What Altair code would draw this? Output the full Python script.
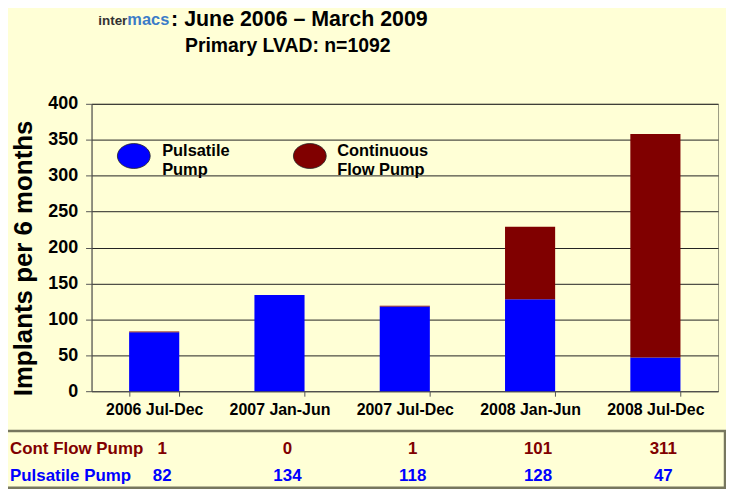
import altair as alt
import pandas as pd

periods = ["2006 Jul-Dec", "2007 Jan-Jun", "2007 Jul-Dec", "2008 Jan-Jun", "2008 Jul-Dec"]
pulsatile = [82, 134, 118, 128, 47]
cont_flow = [1, 0, 1, 101, 311]
series_names = ["Pulsatile Pump", "Continuous Flow Pump"]
series_colors = ["#0000FF", "#800000"]
row_labels = ["Cont Flow Pump", "Pulsatile Pump"]
y_ticks = [0, 50, 100, 150, 200, 250, 300, 350, 400]

FONT = "Liberation Sans"
BG = "#FFFFD6"

rows = []
for i, p in enumerate(periods):
    rows.append({"period": p, "series": "Pulsatile Pump", "value": pulsatile[i], "ord": 0})
    rows.append({"period": p, "series": "Continuous Flow Pump", "value": cont_flow[i], "ord": 1})
df = pd.DataFrame(rows)

xscale = alt.Scale(domain=periods, paddingInner=0.6, paddingOuter=0.3)
cscale = alt.Scale(domain=series_names, range=series_colors)

bars = alt.Chart(df).mark_bar().encode(
    x=alt.X("period:N", scale=xscale, sort=periods,
            axis=alt.Axis(title=None, labelAngle=0, labelFont=FONT, labelFontSize=16,
                          labelFontWeight="bold", labelColor="black", labelPadding=5,
                          tickBand="extent", tickSize=5, tickColor="#555555",
                          domainColor="#555555", grid=False)),
    y=alt.Y("value:Q", stack="zero", scale=alt.Scale(domain=[0, 400], nice=False),
            axis=alt.Axis(title="Implants per 6 months", values=y_ticks,
                          titleFont=FONT, titleFontSize=26, titleFontWeight="bold",
                          titleColor="black", titleX=-60, titleY=155,
                          titleAlign="center", titleBaseline="alphabetic",
                          labelFont=FONT, labelFontSize=18, labelFontWeight="bold",
                          labelColor="black", labelPadding=8, tickSize=6,
                          tickColor="#555555", domainColor="#555555",
                          grid=True, gridColor="#222222", gridWidth=1)),
    color=alt.Color("series:N", scale=cscale, legend=None),
    order=alt.Order("ord:Q"),
)

# Legend (drawn inside plot)
ellipse = "M-1,0A1,0.76,0,1,1,1,0A1,0.76,0,1,1,-1,0Z"
leg_df = pd.DataFrame({"series": series_names, "lx": [42.5, 219.5],
                       "tx": [71, 247], "label": ["Pulsatile\nPump", "Continuous\nFlow Pump"]})
leg_sym = alt.Chart(leg_df).mark_point(shape=ellipse, filled=True, size=1089,
                                        stroke="#222222", strokeWidth=0.8, opacity=1).encode(
    x=alt.X("lx:Q", scale=None), y=alt.value(52.5),
    fill=alt.Fill("series:N", scale=cscale, legend=None),
)
leg_txt = alt.Chart(leg_df).mark_text(align="left", baseline="alphabetic", font=FONT,
                                       fontSize=16.5, fontWeight="bold", color="black",
                                       lineBreak="\n", lineHeight=20).encode(
    x=alt.X("tx:Q", scale=None), y=alt.value(52), text="label:N",
)

# Data table
box = alt.Chart(pd.DataFrame({"a": [0]})).mark_rect(fill=BG, stroke="#77775F", strokeWidth=2.5).encode(
    x=alt.value(-88), x2=alt.value(637), y=alt.value(329), y2=alt.value(386),
)
tab_df = df.copy()
tab_df["ypos"] = tab_df["series"].map({"Continuous Flow Pump": 347, "Pulsatile Pump": 374})
tab_txt = alt.Chart(tab_df).mark_text(align="center", baseline="middle", font=FONT,
                                       fontSize=17, fontWeight="bold", dx=8).encode(
    x=alt.X("period:N", scale=xscale, sort=periods),
    y=alt.Y("ypos:Q", scale=None),
    text="value:Q",
    color=alt.Color("series:N", scale=cscale, legend=None),
)
lab_df = pd.DataFrame({"label": row_labels, "series": ["Continuous Flow Pump", "Pulsatile Pump"],
                       "ypos": [347, 374]})
lab_txt = alt.Chart(lab_df).mark_text(align="left", baseline="middle", font=FONT,
                                       fontSize=17, fontWeight="bold").encode(
    x=alt.value(-82), y=alt.Y("ypos:Q", scale=None), text="label:N",
    color=alt.Color("series:N", scale=cscale, legend=None),
)

# Titles
def txt(s, x, y, size, color="black", align="left"):
    return alt.Chart(pd.DataFrame({"t": [s]})).mark_text(
        align=align, baseline="alphabetic", font=FONT, fontSize=size,
        fontWeight="bold", color=color).encode(x=alt.value(x), y=alt.value(y), text="t:N")

logo1 = txt("inter", 36, -79, 13.5, "#333333", "right")
logo2 = txt("macs", 36, -79, 16.5, "#3C7CC8", "left")
title = txt(": June 2006 \u2013 March 2009", 80, -78, 21.5)
subtitle = txt("Primary LVAD: n=1092", 94, -52, 19.5)

chart = alt.layer(box, bars, leg_sym, leg_txt, tab_txt, lab_txt,
                  logo1, logo2, title, subtitle).properties(
    width=630, height=289,
    autosize=alt.AutoSizeParams(type="none"),
    padding={"left": 84, "top": 95, "right": 8, "bottom": 97},
    background=BG,
).configure_view(stroke="#999980", strokeWidth=1, fill=BG)

chart.save("out.html", embed_options={"renderer": "svg", "actions": False})
